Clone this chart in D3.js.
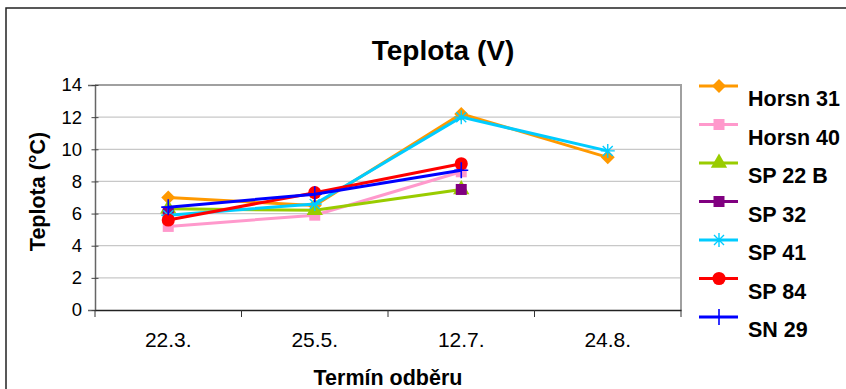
<!DOCTYPE html>
<html>
<head>
<meta charset="utf-8">
<script src="https://cdn.jsdelivr.net/npm/d3@7"></script>
<style>
  body { margin: 0; background: #fff; }
  text { font-family: "Liberation Sans", Arial, sans-serif; }
</style>
</head>
<body>
<div id="main"></div>
<script>
const dates = ['22.3.', '25.5.', '12.7.', '24.8.'];
const seriesNames = ['Horsn 31', 'Horsn 40', 'SP 22 B', 'SP 32', 'SP 41', 'SP 84', 'SN 29'];
const horsn31 = [7.0, 6.5, 12.2, 9.5];
const horsn40 = [5.2, 5.9, 8.6, null];
const sp22b = [6.3, 6.2, 7.5, null];
const sp32 = [6.1, null, 7.5, null];
const sp41 = [5.9, 6.6, 12.0, 9.9];
const sp84 = [5.6, 7.3, 9.1, null];
const sn29 = [6.4, 7.2, 8.7, null];
const yTicks = [0, 2, 4, 6, 8, 10, 12, 14];

const colors = ['#ff9900', '#ff99cc', '#99cc00', '#800080', '#00ccff', '#ff0000', '#0000ff'];
const symbols = ['diamond', 'square', 'triangle', 'square', 'star', 'circle', 'plus'];
const values = [horsn31, horsn40, sp22b, sp32, sp41, sp84, sn29];

const W = 846, H = 389;
const margin = { top: 85, right: 165, bottom: 79, left: 95 };
const width = W - margin.left - margin.right;
const height = H - margin.top - margin.bottom;

const svg = d3.select('#main').append('svg')
  .attr('width', W)
  .attr('height', H);

// outer frame of the chart area
svg.append('rect')
  .attr('x', 6).attr('y', 8)
  .attr('width', W + 10).attr('height', H + 10)
  .attr('fill', 'none').attr('stroke', '#222').attr('stroke-width', 1.5);

const g = svg.append('g')
  .attr('transform', 'translate(' + margin.left + ',' + margin.top + ')');

const x = d3.scaleBand().domain(dates).range([0, width]);
const y = d3.scaleLinear().domain([0, 14]).range([height, 0]);

// gridlines
g.selectAll('.grid')
  .data(yTicks.slice(1, -1))
  .enter().append('line')
  .attr('x1', 0).attr('x2', width)
  .attr('y1', d => y(d)).attr('y2', d => y(d))
  .attr('stroke', '#c8c8c8').attr('stroke-width', 1.2);

// plot border (top + right)
g.append('path')
  .attr('d', 'M0,' + y(14) + 'H' + width + 'V' + height)
  .attr('fill', 'none').attr('stroke', '#a0a0a0').attr('stroke-width', 2);

// y axis
const yAxis = g.append('g')
  .call(d3.axisLeft(y).tickValues(yTicks).tickSize(7).tickPadding(6));
yAxis.select('.domain').attr('stroke', '#666').attr('stroke-width', 1.5);
yAxis.selectAll('.tick line').attr('stroke', '#444').attr('transform', 'translate(3.5,0)');
yAxis.selectAll('text').attr('font-size', 18.5).attr('fill', '#000')
  .attr('font-family', '"Liberation Sans", Arial, sans-serif');

// x axis
const xAxis = g.append('g')
  .attr('transform', 'translate(0,' + height + ')')
  .call(d3.axisBottom(x).tickValues([]).tickSizeOuter(0));
xAxis.select('.domain').attr('stroke', '#222').attr('stroke-width', 1.5);
xAxis.selectAll('.sep')
  .data(d3.range(dates.length + 1))
  .enter().append('line')
  .attr('class', 'sep')
  .attr('x1', d => d * x.step()).attr('x2', d => d * x.step())
  .attr('y1', 0).attr('y2', 7)
  .attr('stroke', '#333').attr('stroke-width', 1);
xAxis.selectAll('.lbl')
  .data(dates)
  .enter().append('text')
  .attr('class', 'lbl')
  .attr('x', d => x(d) + x.bandwidth() / 2)
  .attr('y', 37)
  .attr('text-anchor', 'middle')
  .attr('font-size', 21)
  .attr('fill', '#000')
  .text(d => d);

const cx = d => x(d) + x.bandwidth() / 2;

function symbolPath(type) {
  if (type === 'diamond') return 'M0,-7L7,0L0,7L-7,0Z';
  if (type === 'square') return 'M-5.5,-5.5H5.5V5.5H-5.5Z';
  if (type === 'triangle') return d3.symbol(d3.symbolTriangle, 115)();
  if (type === 'circle') return d3.symbol(d3.symbolCircle, 135)();
  if (type === 'star') return 'M-7,0H7M0,-7V7M-5,-5L5,5M-5,5L5,-5';
  if (type === 'plus') return 'M-7,0H7M0,-8V8';
}

function drawMarker(sel, i) {
  const t = symbols[i];
  const p = sel.append('path').attr('d', symbolPath(t));
  if (t === 'star' || t === 'plus') {
    p.attr('fill', 'none').attr('stroke', colors[i]).attr('stroke-width', t === 'plus' ? 1.6 : 1.4);
  } else {
    p.attr('fill', colors[i]);
  }
}

const line = d3.line()
  .defined(d => d.v != null)
  .x(d => cx(d.k))
  .y(d => y(d.v));

values.forEach((vals, i) => {
  const pts = dates.map((k, j) => ({ k: k, v: vals[j] }));
  const sg = g.append('g');
  sg.append('path')
    .datum(pts)
    .attr('d', line)
    .attr('fill', 'none')
    .attr('stroke', colors[i])
    .attr('stroke-width', 3);
  pts.filter(d => d.v != null).forEach(d => {
    const m = sg.append('g').attr('transform', 'translate(' + cx(d.k) + ',' + y(d.v) + ')');
    drawMarker(m, i);
  });
});

// legend
const legend = svg.append('g').attr('transform', 'translate(699,86)');
seriesNames.forEach((name, i) => {
  const lg = legend.append('g').attr('transform', 'translate(0,' + (i * 38.5) + ')');
  lg.append('line')
    .attr('x1', 0).attr('x2', 39).attr('y1', 0).attr('y2', 0)
    .attr('stroke', colors[i]).attr('stroke-width', 3);
  drawMarker(lg.append('g').attr('transform', 'translate(20,0)'), i);
  lg.append('text')
    .attr('x', 49).attr('y', 20)
    .attr('font-size', 21.5).attr('font-weight', 'bold')
    .text(name);
});

// titles
svg.append('text')
  .attr('x', 443).attr('y', 60)
  .attr('text-anchor', 'middle')
  .attr('font-size', 28).attr('font-weight', 'bold')
  .text('Teplota (V)');

svg.append('text')
  .attr('x', margin.left + width / 2).attr('y', 385)
  .attr('text-anchor', 'middle')
  .attr('font-size', 21.5).attr('font-weight', 'bold')
  .text('Termín odběru');

svg.append('text')
  .attr('transform', 'translate(45,' + (margin.top + height / 2 - 6) + ') rotate(-90)')
  .attr('text-anchor', 'middle')
  .attr('font-size', 21.5).attr('font-weight', 'bold')
  .text('Teplota (°C)');
</script>
</body>
</html>
